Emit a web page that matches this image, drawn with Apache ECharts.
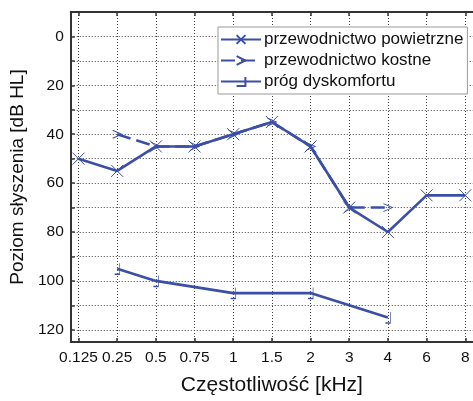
<!DOCTYPE html>
<html><head><meta charset="utf-8">
<script src="https://cdn.jsdelivr.net/npm/echarts@6/dist/echarts.min.js"></script>
<style>html,body{margin:0;padding:0;background:#fff}#c{width:473px;height:401px}</style>
</head><body><div id="c"></div>
<script>
const freqLabels = ['0.125','0.25','0.5','0.75','1','1.5','2','3','4','6','8'];
const airValues  = [50, 55, 45, 45, 40, 35, 45, 70, 80, 65, 65];
const boneValues = [null, 40, 45, 45, 40, 35, 45, 70, 70, null, null];
const uclValues  = [null, 95, 100, null, 105, null, 105, null, 115, null, null];
const yTicks = [0, 20, 40, 60, 80, 100, 120];
const seriesNames = ['przewodnictwo powietrzne', 'przewodnictwo kostne', 'próg dyskomfortu'];

const C = '#3b4fa6';
const FONT = 'Liberation Sans, Arial, sans-serif';
const idx = freqLabels.map((_, i) => i);
const toData = arr => arr.map((v, i) => v == null ? [i, null] : [i, v]);

const chart = echarts.init(document.getElementById('c'), null, {renderer: 'canvas'});
const gridDot = {show: true, lineStyle: {color: '#444', type: [1, 2], width: 1}};
chart.setOption({
  animation: false,
  backgroundColor: '#fff',
  grid: {left: 69, top: 12, right: -9, bottom: 56},
  legend: {
    left: 218, top: 27, orient: 'vertical',
    itemWidth: 40, itemHeight: 11, itemGap: 4,
    padding: [4, 4, 4, 2],
    borderColor: '#999', borderWidth: 1, backgroundColor: '#fff',
    textStyle: {fontFamily: FONT, fontSize: 17, lineHeight: 17, color: '#111', padding: [0, 0, 0, -2]},
    data: seriesNames
  },
  xAxis: [{
    type: 'value', min: -0.2, max: 10.2, position: 'bottom',
    name: 'Częstotliwość [kHz]', nameLocation: 'middle', nameGap: 33,
    nameTextStyle: {fontFamily: FONT, fontSize: 21, color: '#111'},
    axisLine: {show: true, onZero: false, lineStyle: {color: '#333', width: 2}},
    axisTick: {show: true, inside: true, length: 4, customValues: idx, lineStyle: {color: '#333', width: 1.5}},
    axisLabel: {customValues: idx, fontFamily: FONT, fontSize: 15.5, color: '#111', margin: 8,
      formatter: v => freqLabels[Math.round(v)]},
    splitLine: gridDot
  }, {
    type: 'value', min: -0.2, max: 10.2, position: 'top',
    axisLine: {show: true, onZero: false, lineStyle: {color: '#333', width: 2}},
    axisTick: {show: true, inside: true, length: 4, customValues: idx, lineStyle: {color: '#333', width: 1.5}},
    axisLabel: {show: false},
    splitLine: {show: false}
  }],
  yAxis: {
    type: 'value', inverse: true, min: -10, max: 125, interval: 10,
    name: 'Poziom słyszenia [dB HL]', nameLocation: 'middle', nameGap: 36,
    nameTextStyle: {fontFamily: FONT, fontSize: 19, color: '#111'},
    axisLine: {show: true, onZero: false, lineStyle: {color: '#333', width: 2}},
    axisTick: {show: true, inside: true, length: 4, lineStyle: {color: '#333', width: 1.5}},
    axisLabel: {fontFamily: FONT, fontSize: 15.5, color: '#111', margin: 7,
      formatter: v => yTicks.indexOf(v) >= 0 ? String(v) : ''},
    splitLine: gridDot
  },
  series: [{
    name: seriesNames[0], type: 'line', data: toData(airValues),
    symbol: 'path://M0,0L10,10M10,0L0,10', symbolSize: 12,
    lineStyle: {color: C, width: 2.6},
    itemStyle: {color: 'rgba(0,0,0,0)', borderColor: C, borderWidth: 1}
  }, {
    name: seriesNames[1], type: 'line', data: toData(boneValues),
    symbol: 'path://M0,0L10,5L0,10', symbolSize: [9, 8],
    lineStyle: {color: C, width: 2.6, type: [14, 6]},
    itemStyle: {color: 'rgba(0,0,0,0)', borderColor: C, borderWidth: 1}
  }, {
    name: seriesNames[2], type: 'line', data: toData(uclValues), connectNulls: true,
    symbol: 'path://M10,0L10,10L0,10', symbolSize: [5, 11],
    lineStyle: {color: C, width: 2.6},
    itemStyle: {color: 'rgba(0,0,0,0)', borderColor: C, borderWidth: 1}
  }]
});
</script></body></html>
